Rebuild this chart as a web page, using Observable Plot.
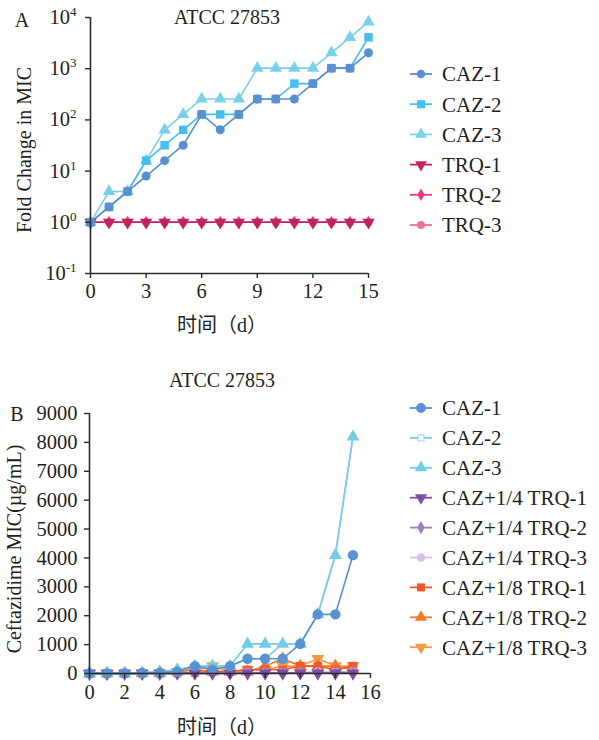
<!DOCTYPE html>
<html><head><meta charset="utf-8">
<script src="https://cdn.jsdelivr.net/npm/d3@7"></script>
<script src="https://cdn.jsdelivr.net/npm/@observablehq/plot@0.6"></script>
<style>
body{margin:0;background:#fff;}
#wrap{position:relative;width:599px;height:740px;font-family:"Liberation Serif","Noto Sans CJK SC",serif;color:#231f20;overflow:hidden;}
.lbl{position:absolute;font-size:20px;white-space:nowrap;line-height:1;transform:translate(-50%,-50%);}
.rot{transform:translate(-50%,-50%) rotate(-90deg);}
.panel{position:absolute;left:0;}
</style></head><body><div id="wrap"></div>
<script>
// ---------- data ----------
const days = [0,1,2,3,4,5,6,7,8,9,10,11,12,13,14,15];

// Panel A: fold change in MIC
const caz1A = [1,2,4,8,16,32,128,64,128,256,256,256,512,1024,1024,2048];
const caz2A = [1,2,4,16,32,64,128,128,128,256,256,512,512,1024,1024,4096];
const caz3A = [1,4,4,16,64,128,256,256,256,1024,1024,1024,1024,2048,4096,8192];
const trq1A = [1,1,1,1,1,1,1,1,1,1,1,1,1,1,1,1];
const trq2A = [1,1,1,1,1,1,1,1,1,1,1,1,1,1,1,1];
const trq3A = [1,1,1,1,1,1,1,1,1,1,1,1,1,1,1,1];

// Panel B: ceftazidime MIC (µg/mL)
const caz1B = [2,4,8,16,32,64,256,128,256,512,512,512,1024,2048,2048,4096];
const caz2B = [2,4,8,32,64,128,256,256,256,512,512,1024,1024,2048,4096,8192];
const caz3B = [1,4,4,16,64,128,256,256,256,1024,1024,1024,1024,2048,4096,8192];
const q1B = [2,2,2,2,2,4,4,4,4,8,8,8,8,8,8,8];
const q2B = [2,2,2,2,4,4,8,8,8,16,16,16,16,16,32,32];
const q3B = [2,2,2,2,4,8,16,16,32,32,32,32,32,64,64,64];
const e1B = [2,2,2,4,8,16,32,64,64,128,128,128,256,256,128,256];
const e2B = [2,2,2,4,16,64,128,64,64,64,256,512,256,256,256,128];
const e3B = [2,2,4,8,16,64,128,256,64,128,128,256,256,512,256,256];

// tick values / labels
const xTicksA = [0,3,6,9,12,15];
const yTicksA = [0.1,1,10,100,1000,10000];
const yExpA = ["-1","0","1","2","3","4"];
const xTicksB = [0,2,4,6,8,10,12,14,16];
const yTicksB = [0,1000,2000,3000,4000,5000,6000,7000,8000,9000];

const namesA = ["CAZ-1","CAZ-2","CAZ-3","TRQ-1","TRQ-2","TRQ-3"];
const namesB = ["CAZ-1","CAZ-2","CAZ-3","CAZ+1/4 TRQ-1","CAZ+1/4 TRQ-2","CAZ+1/4 TRQ-3","CAZ+1/8 TRQ-1","CAZ+1/8 TRQ-2","CAZ+1/8 TRQ-3"];

// ---------- styling ----------
const sqrt3 = Math.sqrt(3);
const triDown = {draw(ctx, size){ const y = -Math.sqrt(size/(sqrt3*3)); ctx.moveTo(0,-y*2); ctx.lineTo(-sqrt3*y, y); ctx.lineTo(sqrt3*y, y); ctx.closePath(); }};
const symMap = {circle: d3.symbolCircle, square: d3.symbolSquare, triangle: d3.symbolTriangle, diamond: d3.symbolDiamond, down: triDown};

const seriesA = [
  {name:namesA[0], vals:caz1A, color:"#5a8fd0", sym:"circle", r:4.5},
  {name:namesA[1], vals:caz2A, color:"#45bfee", sym:"square", r:4.8},
  {name:namesA[2], vals:caz3A, color:"#7ad0ea", sym:"triangle", r:4.6},
  {name:namesA[3], vals:trq1A, color:"#c0245e", sym:"down", r:4.6},
  {name:namesA[4], vals:trq2A, color:"#e63b86", sym:"diamond", r:4.0},
  {name:namesA[5], vals:trq3A, color:"#ef6e96", sym:"circle", r:4.2}
];
const seriesB = [
  {name:namesB[0], vals:caz1B, color:"#5892d2", sym:"circle", r:5.2},
  {name:namesB[1], vals:caz2B, color:"#7dcdea", sym:null, r:0},
  {name:namesB[2], vals:caz3B, color:"#72cbe7", sym:"triangle", r:4.8},
  {name:namesB[3], vals:q1B, color:"#7d4fa3", sym:"down", r:4.8},
  {name:namesB[4], vals:q2B, color:"#a07ec0", sym:"diamond", r:4.2},
  {name:namesB[5], vals:q3B, color:"#d9bfe0", sym:"circle", r:4.5},
  {name:namesB[6], vals:e1B, color:"#f05a28", sym:"square", r:4.8},
  {name:namesB[7], vals:e2B, color:"#f4792e", sym:"triangle", r:4.8},
  {name:namesB[8], vals:e3B, color:"#f89a45", sym:"down", r:4.8}
];
const rows = s => days.map((d,i) => ({day:d, v:s.vals[i]}));

const wrap = document.getElementById("wrap");
const axisColor = "#2b2b2b";

// ---------- panel A ----------
{
  const [c1,c2,c3,t1,t2,t3] = seriesA;
  const lineOrder = [t3,t2,t1,c3,c2,c1];
  const marks = [];
  for (const s of lineOrder) marks.push(Plot.line(rows(s), {x:"day", y:"v", stroke:s.color, strokeWidth:1.6}));
  for (const s of [t3,t2,t1,c3,c1]) marks.push(Plot.dot(rows(s), {x:"day", y:"v", fill:s.color, r:s.r, symbol:symMap[s.sym]}));
  marks.push(Plot.dot(rows(c2), {x:"day", y:"v", r:c2.r, symbol:d3.symbolSquare, fill: d => d.v === caz1A[d.day] ? c1.color : c2.color}));
  marks.push(Plot.ruleX([0], {stroke:axisColor, strokeWidth:1.6}));
  marks.push(Plot.ruleY([0.1], {stroke:axisColor, strokeWidth:1.6}));
  marks.push(Plot.axisX({ticks:xTicksA, tickSize:5, tickPadding:5, label:null, stroke:axisColor, strokeWidth:1.4}));
  marks.push(Plot.axisY({ticks:yTicksA, tickSize:5, tickPadding:9, label:null, stroke:axisColor, strokeWidth:1.4, tickFormat:(d) => "10^" + yExpA[yTicksA.indexOf(d)]}));
  const p = Plot.plot({
    width:400, height:345, marginLeft:90, marginRight:32, marginTop:17, marginBottom:72,
    x:{domain:[0,15]}, y:{type:"log", domain:[0.1,10000]},
    style:{fontFamily:'"Liberation Serif", serif', fontSize:"20.5px", color:"#231f20", background:"transparent"},
    marks
  });
  d3.select(p).selectAll('g[aria-label="y-axis tick label"] text').each(function(){
    const t = this.textContent; if (!t.includes("^")) return;
    const [b,e] = t.split("^");
    this.textContent = b;
    d3.select(this).append("tspan").attr("dy","-0.62em").attr("font-size","13px").text(e);
  });
  p.classList.add("panel"); p.style.top = "0px";
  wrap.appendChild(p);
}

// ---------- panel B ----------
{
  const order = [8,7,6,5,4,3,2,1,0].map(i => seriesB[i]);
  const marks = [];
  for (const s of order) {
    marks.push(Plot.line(rows(s), {x:"day", y:"v", stroke:s.color, strokeWidth:1.6}));
    if (s.sym) marks.push(Plot.dot(rows(s), {x:"day", y:"v", fill:s.color, r:s.r, symbol:symMap[s.sym]}));
  }
  marks.push(Plot.ruleX([0], {stroke:axisColor, strokeWidth:1.6}));
  marks.push(Plot.ruleY([0], {stroke:axisColor, strokeWidth:1.6}));
  marks.push(Plot.axisX({ticks:xTicksB, tickSize:5, tickPadding:6, label:null, stroke:axisColor, strokeWidth:1.4}));
  marks.push(Plot.axisY({ticks:yTicksB, tickSize:5, tickPadding:7, label:null, stroke:axisColor, strokeWidth:1.4, tickFormat:d3.format("d")}));
  const p = Plot.plot({
    width:400, height:380, marginLeft:89, marginRight:30, marginTop:53, marginBottom:67,
    x:{domain:[0,16]}, y:{domain:[0,9000]},
    style:{fontFamily:'"Liberation Serif", serif', fontSize:"20.5px", color:"#231f20", background:"transparent"},
    marks
  });
  p.classList.add("panel"); p.style.top = "360px";
  wrap.appendChild(p);
}

// ---------- text labels ----------
function label(text, x, y, rot) {
  const d = document.createElement("div");
  d.className = "lbl" + (rot ? " rot" : "");
  d.textContent = text; d.style.left = x + "px"; d.style.top = y + "px";
  wrap.appendChild(d);
}
label("A", 22, 20);
label("ATCC 27853", 227, 17);
label("Fold Change in MIC", 24, 150, true);
label("时间（d）", 222, 325);
label("B", 17, 414);
label("ATCC 27853", 222, 380);
label("Ceftazidime MIC(µg/mL)", 14, 549, true);
label("时间（d）", 222, 727);

// ---------- legends ----------
function legend(series, y0, step) {
  const svg = d3.select(wrap).append("svg").attr("width",599).attr("height",740)
    .style("position","absolute").style("left","0").style("top","0").style("pointer-events","none");
  series.forEach((s,i) => {
    const y = y0 + step*i;
    const g = svg.append("g").attr("transform",`translate(421,${y})`);
    g.append("line").attr("x1",-11).attr("x2",11).attr("stroke",s.color).attr("stroke-width",1.8);
    if (s.sym) g.append("path").attr("d", d3.symbol(symMap[s.sym], Math.PI*s.r*s.r*0.9)()).attr("fill",s.color);
    else g.append("rect").attr("x",-3).attr("y",-3).attr("width",6).attr("height",6).attr("fill","#fff").attr("stroke",s.color).attr("stroke-width",0.8);
    svg.append("text").attr("x",442).attr("y",y).attr("dy","0.35em")
      .attr("font-family",'"Liberation Serif", serif').attr("font-size",21).attr("fill","#231f20").text(s.name);
  });
}
legend(seriesA, 74, 30.2);
legend(seriesB, 408, 29.9);
</script></body></html>
